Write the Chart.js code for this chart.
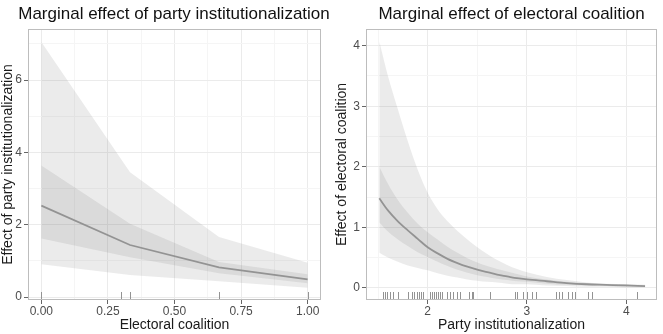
<!DOCTYPE html>
<html>
<head>
<meta charset="utf-8">
<script src="https://cdn.jsdelivr.net/npm/chart.js@4.4.1/dist/chart.umd.min.js"></script>
<style>
  html, body { margin: 0; padding: 0; background: #fff; }
  #wrap { position: relative; width: 663px; height: 334px; overflow: hidden; }
  canvas { position: absolute; top: 0; }
  #left { left: 0; }
  #right { left: 331px; }
</style>
</head>
<body>
<div id="wrap">
  <canvas id="left" width="348" height="334"></canvas>
  <canvas id="right" width="361" height="334"></canvas>
</div>
<script>
const FONT = "'Liberation Sans', Arial, Helvetica, sans-serif";

// left panel: effect of party institutionalization over electoral coalition
const coalitionX = [0, 0.333, 0.667, 1];
const instMean = [2.53, 1.44, 0.82, 0.49];
const instInnerLo = [1.62, 1.10, 0.66, 0.38];
const instInnerHi = [3.64, 2.03, 0.97, 0.63];
const instOuterLo = [0.91, 0.61, 0.44, 0.26];
const instOuterHi = [7.05, 3.45, 1.66, 0.95];
const coalitionRug = [0, 0.3, 0.333, 0.667, 1];
const coalitionTicks = [0, 0.25, 0.5, 0.75, 1];
const coalitionMinor = [0.125, 0.375, 0.625, 0.875];
const coalitionLabels = ['0.00', '0.25', '0.50', '0.75', '1.00'];
const instEffectTicks = [0, 2, 4, 6];
const instEffectMinor = [1, 3, 5, 7];
const instEffectLabels = ['0', '2', '4', '6'];

// right panel: effect of electoral coalition over party institutionalization
const instX = [1.513, 1.6, 1.7, 1.8, 1.9, 2.0, 2.1, 2.2, 2.3, 2.4, 2.5, 2.6, 2.7, 2.8, 2.9, 3.0, 3.2, 3.4, 3.6, 3.8, 4.0, 4.19];
const coalMean =    [1.48, 1.28, 1.10, 0.95, 0.81, 0.67, 0.57, 0.48, 0.41, 0.35, 0.30, 0.26, 0.22, 0.19, 0.16, 0.14, 0.11, 0.08, 0.06, 0.05, 0.04, 0.03];
const coalInnerHi = [2.00, 1.72, 1.45, 1.24, 1.06, 0.92, 0.80, 0.68, 0.58, 0.49, 0.42, 0.36, 0.31, 0.27, 0.23, 0.19, 0.14, 0.10, 0.08, 0.06, 0.05, 0.04];
const coalInnerLo = [1.08, 0.93, 0.80, 0.69, 0.59, 0.51, 0.43, 0.36, 0.30, 0.25, 0.21, 0.18, 0.15, 0.13, 0.11, 0.10, 0.07, 0.05, 0.04, 0.03, 0.02, 0.02];
const coalOuterHi = [4.07, 3.50, 2.95, 2.42, 1.95, 1.57, 1.30, 1.10, 0.94, 0.80, 0.67, 0.56, 0.46, 0.38, 0.31, 0.26, 0.18, 0.13, 0.09, 0.07, 0.06, 0.05];
const coalOuterLo = [0.58, 0.50, 0.43, 0.37, 0.33, 0.29, 0.24, 0.20, 0.17, 0.14, 0.12, 0.10, 0.09, 0.07, 0.06, 0.06, 0.04, 0.03, 0.02, 0.02, 0.01, 0.01];
const instRug = [1.547, 1.570, 1.595, 1.620, 1.648, 1.706, 1.797, 1.842, 1.867, 1.889, 1.912, 1.933, 1.953,
  2.023, 2.043, 2.063, 2.084, 2.104, 2.124, 2.144, 2.191, 2.225, 2.255, 2.295, 2.325, 2.419, 2.443, 2.459,
  2.632, 2.884, 2.904, 2.963, 2.997, 3.055, 3.091, 3.297, 3.322, 3.353, 3.418, 3.453, 3.483, 3.617, 3.655, 4.108];
const instTicks = [2, 3, 4];
const instMinor = [1.5, 2.5, 3.5];
const instLabels = ['2', '3', '4'];
const coalEffectTicks = [0, 1, 2, 3, 4];
const coalEffectMinor = [0.5, 1.5, 2.5, 3.5];
const coalEffectLabels = ['0', '1', '2', '3', '4'];

const BAND = 'rgba(120,120,120,0.15)';
const LINE = '#9e9e9e';

const rugPlugin = {
  id: 'rug',
  afterDatasetsDraw(chart, args, opts) {
    const { ctx, chartArea, scales } = chart;
    ctx.save();
    ctx.strokeStyle = '#939393';
    ctx.lineWidth = 1;
    opts.values.forEach(v => {
      const px = Math.round(scales.x.getPixelForValue(v)) + 0.5;
      ctx.beginPath();
      ctx.moveTo(px, chartArea.bottom);
      ctx.lineTo(px, chartArea.bottom - 8);
      ctx.stroke();
    });
    ctx.restore();
  }
};

const panelBorder = {
  id: 'panelBorder',
  afterDraw(chart) {
    const { ctx, chartArea: a } = chart;
    ctx.save();
    ctx.strokeStyle = '#bdbdbd';
    ctx.lineWidth = 1;
    ctx.strokeRect(a.left + 0.5, a.top + 0.5, a.right - a.left - 1, a.bottom - a.top - 1);
    ctx.restore();
  }
};

function axis(o) {
  const all = [...o.majors, ...o.minors].sort((a, b) => a - b);
  const isMajor = c => c.tick && o.majors.includes(c.tick.value);
  return {
    type: 'linear',
    min: o.min,
    max: o.max,
    afterBuildTicks: s => { s.ticks = all.map(v => ({ value: v })); },
    afterFit: s => {
      if (o.width) s.width = o.width;
      if (o.height) s.height = o.height;
    },
    ticks: {
      autoSkip: false,
      maxRotation: 0,
      color: '#4d4d4d',
      padding: o.tickPad,
      font: { family: FONT, size: 12 },
      callback: v => {
        const i = o.majors.indexOf(v);
        return i < 0 ? '' : o.labels[i];
      }
    },
    grid: {
      color: c => isMajor(c) ? '#ebebeb' : '#f5f5f5',
      tickColor: c => isMajor(c) ? '#666666' : 'rgba(0,0,0,0)',
      tickLength: 4,
      lineWidth: 1
    },
    border: { display: false },
    title: {
      display: true,
      text: o.title,
      color: '#1a1a1a',
      font: { family: FONT, size: 14, lineHeight: 1 },
      padding: o.titlePadding
    }
  };
}

// empty axis on the right, only to reserve space so the title stays centred over the panel
function spacer(width) {
  return {
    position: 'right',
    display: true,
    afterFit: s => { s.width = width; },
    ticks: { display: false },
    grid: { display: false },
    border: { display: false }
  };
}

function band(xs, lo, hi, smooth) {
  const base = { pointRadius: 0, borderWidth: 0, cubicInterpolationMode: smooth ? 'monotone' : 'default', tension: 0 };
  return [
    { ...base, data: xs.map((x, i) => ({ x, y: lo[i] })), fill: false },
    { ...base, data: xs.map((x, i) => ({ x, y: hi[i] })), fill: '-1', backgroundColor: BAND }
  ];
}

function makeChart(id, cfg) {
  return new Chart(document.getElementById(id), {
    type: 'line',
    data: {
      datasets: [
        ...band(cfg.xs, cfg.outerLo, cfg.outerHi, cfg.smooth),
        ...band(cfg.xs, cfg.innerLo, cfg.innerHi, cfg.smooth),
        {
          data: cfg.xs.map((x, i) => ({ x, y: cfg.mean[i] })),
          borderColor: LINE,
          borderWidth: 1.8,
          pointRadius: 0,
          fill: false,
          tension: 0,
          cubicInterpolationMode: cfg.smooth ? 'monotone' : 'default'
        }
      ]
    },
    plugins: [rugPlugin, panelBorder],
    options: {
      responsive: false,
      animation: false,
      layout: { padding: 0 },
      plugins: {
        legend: { display: false },
        tooltip: { enabled: false },
        title: {
          display: true,
          text: cfg.title,
          color: '#111111',
          font: { family: FONT, size: 17, weight: 'normal', lineHeight: 1.2 },
          padding: { top: 4.3, bottom: 4.3 }
        },
        rug: { values: cfg.rug }
      },
      scales: {
        x: axis({ ...cfg.x, height: 34, tickPad: 0, titlePadding: { top: 0, bottom: 2 } }),
        y: axis({ ...cfg.y, width: cfg.yWidth, tickPad: 2, titlePadding: { top: cfg.yTitlePad, bottom: 0 } }),
        pad: spacer(cfg.padRight)
      }
    }
  });
}

makeChart('left', {
  title: 'Marginal effect of party institutionalization',
  xs: coalitionX, mean: instMean,
  innerLo: instInnerLo, innerHi: instInnerHi,
  outerLo: instOuterLo, outerHi: instOuterHi,
  rug: coalitionRug, smooth: false,
  padRight: 27, yWidth: 28, yTitlePad: 1,
  x: { min: -0.05, max: 1.05, majors: coalitionTicks, minors: coalitionMinor, labels: coalitionLabels, title: 'Electoral coalition' },
  y: { min: -0.08, max: 7.41, majors: instEffectTicks, minors: instEffectMinor, labels: instEffectLabels, title: 'Effect of party institutionalization' }
});

makeChart('right', {
  title: 'Marginal effect of electoral coalition',
  xs: instX, mean: coalMean,
  innerLo: coalInnerLo, innerHi: coalInnerHi,
  outerLo: coalOuterLo, outerHi: coalOuterHi,
  rug: instRug, smooth: true,
  padRight: 35, yWidth: 35, yTitlePad: 4,
  x: { min: 1.379, max: 4.31, majors: instTicks, minors: instMinor, labels: instLabels, title: 'Party institutionalization' },
  y: { min: -0.2, max: 4.276, majors: coalEffectTicks, minors: coalEffectMinor, labels: coalEffectLabels, title: 'Effect of electoral coalition' }
});
</script>
</body>
</html>
